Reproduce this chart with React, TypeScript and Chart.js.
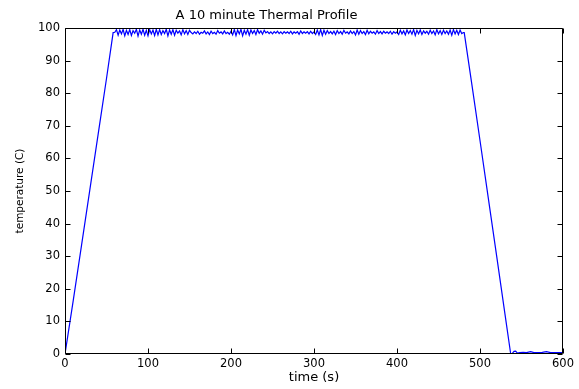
import { useEffect, useRef } from "react";
import { Chart, registerables } from "chart.js";

Chart.register(...registerables);

const titleText = "A 10 minute Thermal Profile";
const xLabel = "time (s)";
const yLabel = "temperature (C)";
const xTicks = [0, 100, 200, 300, 400, 500, 600];
const yTicks = [0, 10, 20, 30, 40, 50, 60, 70, 80, 90, 100];

// heating ramp
const rampTimes = [0, 10, 20, 30, 40, 50, 58];
const rampTemps = [0, 16.5, 33.5, 50.5, 67.5, 84.5, 98.6];

// noisy hold at ~99 C, one reading every 2 s from t = 60 s
const plateauStart = 60;
const plateauStep = 2;
const plateauTemps = [
  98.7, 99.5, 97.8, 99.4, 98.2, 99.6, 97.6, 99.3, 98.0, 99.5, 97.7, 99.2, 98.4, 99.6, 97.5,
  99.4, 98.1, 99.6, 97.8, 99.3, 97.6, 99.5, 98.2, 99.4, 97.7, 99.6, 97.9, 99.5, 98.0, 99.2,
  98.3, 99.6, 97.6, 99.4, 98.1, 99.5, 97.8, 99.3, 98.4, 99.1, 97.9, 99.5, 98.2, 99.2, 98.0,
  99.3,
  98.6, 98.2, 98.8, 98.3, 99.0, 98.1, 98.7, 98.4, 99.1, 98.2, 98.8, 98.0, 99.0, 98.3, 98.7,
  98.1, 99.2, 98.4, 98.8, 98.2, 99.1, 98.3, 98.7, 98.1, 99.0,
  97.9, 99.5, 97.7, 99.4, 98.2, 99.6, 97.6, 99.3, 98.1, 99.5, 97.8, 99.4, 98.3, 99.2, 98.0,
  99.5, 98.4, 99.1, 98.1, 99.3,
  98.5, 98.9, 98.3, 98.8, 98.2, 98.9, 98.4, 99.0, 98.3, 98.8, 98.2, 98.9, 98.4, 98.8, 98.3,
  99.0, 98.2, 98.8, 98.4, 98.9, 98.1, 99.1, 98.3, 98.8, 98.4, 98.9, 98.2, 99.0, 98.3, 98.8,
  98.0, 99.4, 97.9, 99.5, 97.7, 99.3, 98.1, 99.2, 98.3, 98.9,
  98.2, 99.0, 98.0, 99.2, 98.3, 98.9, 98.1, 99.3, 98.4, 98.8, 98.2, 99.1, 98.3, 98.9, 97.9,
  99.4, 98.1, 99.2, 98.3, 98.9, 98.0, 99.3, 98.2, 99.0, 98.4, 98.8, 98.1, 99.2, 98.3, 98.9,
  98.2, 99.0, 98.4, 98.8, 98.3, 99.0, 98.1, 98.9, 98.4, 98.8,
  98.0, 99.3, 98.2, 99.1, 97.9, 99.4, 98.3, 99.2, 98.1, 99.5, 97.7, 99.3, 98.2, 99.4, 98.0,
  99.1, 98.4, 99.0, 98.1, 99.3, 98.3, 99.1, 97.9, 99.5, 98.2, 99.2, 98.0, 99.3, 98.3, 99.1,
  98.1, 99.4, 97.8, 99.5, 98.2, 99.3, 98.0, 99.4, 98.3, 98.6,
];

// cool-down and residual
const coolTimes = [481, 490, 500, 510, 520, 530, 537, 539, 541, 543, 545, 548, 552, 556, 561, 565, 570, 575, 580, 585, 590, 595, 600];
const coolTemps = [98.6, 83, 65.5, 47.8, 30.2, 12.4, 0, 0.2, 0.8, 0.9, 0.3, 0.4, 0.5, 0.4, 0.7, 0.4, 0.4, 0.5, 0.7, 0.4, 0.4, 0.4, 0.4];

const FONT = "'DejaVu Sans', sans-serif";

export default function App() {
  const ref = useRef<HTMLCanvasElement | null>(null);

  useEffect(() => {
    if (!ref.current) return;
    const points: { x: number; y: number }[] = [];
    rampTimes.forEach((t, i) => points.push({ x: t, y: rampTemps[i] }));
    plateauTemps.forEach((v, i) => points.push({ x: plateauStart + i * plateauStep, y: v }));
    coolTimes.forEach((t, i) => points.push({ x: t, y: coolTemps[i] }));

    const framePlugin = {
      id: "frame",
      afterDraw(chart: any) {
        const { ctx, chartArea: a, scales } = chart;
        ctx.save();
        ctx.strokeStyle = "#000";
        ctx.lineWidth = 1;
        const L = Math.round(a.left) + 0.5;
        const R = Math.round(a.right) - 0.5;
        const T = Math.round(a.top) + 0.5;
        const B = Math.round(a.bottom) - 0.5;
        ctx.beginPath();
        ctx.rect(L, T, R - L, B - T);
        const len = 5;
        xTicks.forEach((v) => {
          const px = Math.round(scales.x.getPixelForValue(v)) + 0.5;
          ctx.moveTo(px, B);
          ctx.lineTo(px, B - len);
          ctx.moveTo(px, T);
          ctx.lineTo(px, T + len);
        });
        yTicks.forEach((v) => {
          const py = Math.round(scales.y.getPixelForValue(v)) + 0.5;
          ctx.moveTo(L, py);
          ctx.lineTo(L + len, py);
          ctx.moveTo(R, py);
          ctx.lineTo(R - len, py);
        });
        ctx.stroke();
        ctx.fillStyle = "#000";
        ctx.font = `13px ${FONT}`;
        ctx.textAlign = "center";
        ctx.textBaseline = "alphabetic";
        ctx.fillText(titleText, 266.5, 19);
        ctx.restore();
      },
    };

    const chart = new Chart(ref.current, {
      type: "line",
      data: {
        datasets: [
          {
            data: points,
            borderColor: "#0000ff",
            borderWidth: 1.2,
            pointRadius: 0,
            tension: 0,
            fill: false,
          },
        ],
      },
      options: {
        animation: false,
        responsive: false,
        maintainAspectRatio: false,
        events: [],
        layout: { padding: { top: 28, right: 16, left: 0, bottom: 0 } },
        plugins: { legend: { display: false }, tooltip: { enabled: false }, title: { display: false } },
        scales: {
          x: {
            type: "linear",
            min: 0,
            max: 600,
            afterBuildTicks: (s: any) => {
              s.ticks = xTicks.map((v) => ({ value: v }));
            },
            afterFit: (s: any) => {
              s.height = 35;
            },
            grid: { display: false, drawTicks: false, tickLength: 0 },
            border: { display: false },
            ticks: { color: "#000", font: { family: FONT, size: 11.5 }, padding: 3, maxRotation: 0, autoSkip: false },
            title: { display: true, text: xLabel, color: "#000", font: { family: FONT, size: 13 }, padding: { top: 0, bottom: 4 } },
          },
          y: {
            type: "linear",
            min: 0,
            max: 100,
            afterBuildTicks: (s: any) => {
              s.ticks = yTicks.map((v) => ({ value: v }));
            },
            afterFit: (s: any) => {
              s.width = 65;
            },
            grid: { display: false, drawTicks: false, tickLength: 0 },
            border: { display: false },
            ticks: { color: "#000", font: { family: FONT, size: 11.5 }, padding: 5, autoSkip: false },
            title: { display: true, text: yLabel, color: "#000", font: { family: FONT, size: 10.5 }, padding: { top: 14, bottom: 0 } },
          },
        },
      },
      plugins: [framePlugin],
    });
    return () => chart.destroy();
  }, []);

  return (
    <div style={{ position: "absolute", left: 0, top: 0, width: 579, height: 389, background: "#fff" }}>
      <canvas ref={ref} width={579} height={389} style={{ display: "block" }} />
    </div>
  );
}
